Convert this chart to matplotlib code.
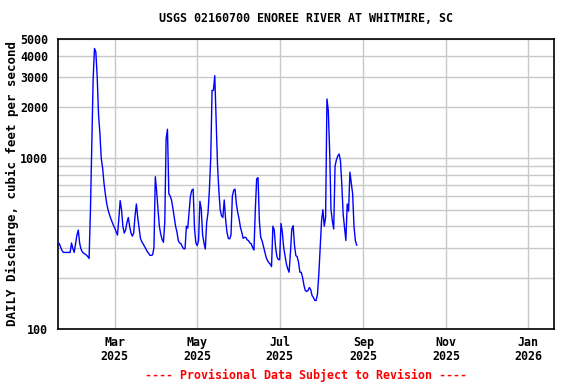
import matplotlib
matplotlib.use('Agg')
import matplotlib.pyplot as plt
import pandas as pd

# daily discharge, cfs, starting 2025-01-18
start_date = '2025-01-18'
discharge = [
    319, 316, 300, 288, 281, 281, 281, 281, 281, 281,
    319, 296, 281, 316, 355, 380, 319, 294, 283, 278,
    275, 271, 266, 259, 494, 1200, 2900, 4400, 4200, 3000,
    1800, 1400, 1000, 880, 720, 620, 545, 500, 470, 445,
    425, 405, 390, 372, 355, 440, 565, 500, 400, 365,
    380, 420, 450, 400, 365, 350, 365, 460, 540, 450,
    390, 340, 325, 315, 305, 295, 285, 278, 270, 270,
    272, 300, 780, 640, 500, 400, 360, 335, 322, 420,
    1300, 1480, 620, 600, 570, 510, 450, 400, 370, 330,
    319, 316, 303, 295, 295, 400, 390, 480, 600, 650,
    660, 390, 320, 308, 330, 560, 505, 355, 320, 294,
    420, 480, 650, 1000, 2500, 2500, 3050, 1700, 925, 650,
    500, 460, 450, 570, 440, 370, 340, 337, 355, 600,
    650, 660, 540, 480, 441, 394, 368, 340, 344, 344,
    333, 329, 319, 316, 300, 290, 500, 760, 770, 430,
    344, 329, 305, 281, 263, 252, 245, 240, 232, 400,
    380, 300, 265, 255, 255, 415, 368, 300, 269, 240,
    225, 215, 281, 385, 403, 308, 269, 265, 245, 215,
    215, 200, 180, 168, 166, 168, 175, 170, 157, 153,
    147, 147, 160, 210, 300, 430, 500, 400, 450, 2228,
    1900, 1100, 500, 430, 385, 900, 980, 1030, 1060, 968,
    700, 470, 394, 330, 540, 490, 830, 720, 620, 400,
    330, 310,
]

x_start = '2025-01-18'
x_end = '2026-01-20'
x_ticks = ['2025-03-01', '2025-05-01', '2025-07-01', '2025-09-01', '2025-11-01', '2026-01-01']
y_major = [100, 1000, 2000, 3000, 4000, 5000]
y_minor = [200, 300, 400, 500, 600, 700, 800, 900]

title = 'USGS 02160700 ENOREE RIVER AT WHITMIRE, SC'
ylabel = 'DAILY Discharge, cubic feet per second'
footer = '---- Provisional Data Subject to Revision ----'

mono = 'DejaVu Sans Mono'
fs = 8.4

dates = pd.date_range(start_date, periods=len(discharge), freq='D')

fig = plt.figure(figsize=(5.76, 3.84), dpi=100)
ax = fig.add_axes([58/576, 1-329/384, (554-58)/576, (329-39)/384])

ax.plot(dates, discharge, color='#0000ff', lw=1.0, zorder=3)

ax.set_yscale('log')
ax.set_ylim(100, 5000)
ax.set_xlim(pd.Timestamp(x_start), pd.Timestamp(x_end))

ax.set_yticks(y_major)
ax.set_yticklabels([str(v) for v in y_major])
ax.set_yticks(y_minor, minor=True)
ax.set_yticklabels([], minor=True)

xt = [pd.Timestamp(t) for t in x_ticks]
ax.set_xticks(xt)
ax.set_xticklabels([t.strftime('%b\n%Y') for t in xt])
ax.xaxis.set_minor_locator(plt.NullLocator())

ax.grid(True, which='both', color='#c8c8c8', lw=1.0, zorder=0)
ax.tick_params(which='both', length=0)
ax.tick_params(axis='y', pad=7)
ax.tick_params(axis='x', pad=5)
for lab in ax.get_xticklabels() + ax.get_yticklabels():
    lab.set_family(mono)
    lab.set_fontweight('bold')
    lab.set_fontsize(fs)
for lab in ax.get_xticklabels():
    lab.set_linespacing(1.15)

for s in ax.spines.values():
    s.set_linewidth(1.2)
    s.set_color('black')

fig.text(306/576, 1-19/384, title, ha='center', va='center',
         family=mono, fontweight='bold', fontsize=fs)
fig.text(12/576, 1-183/384, ylabel, ha='center', va='center', rotation=90,
         family=mono, fontweight='bold', fontsize=9.0)
fig.text(306/576, 1-375/384, footer, ha='center', va='center',
         family=mono, fontweight='bold', fontsize=fs, color='#ff0000')

fig.savefig('out.png', dpi=100)
